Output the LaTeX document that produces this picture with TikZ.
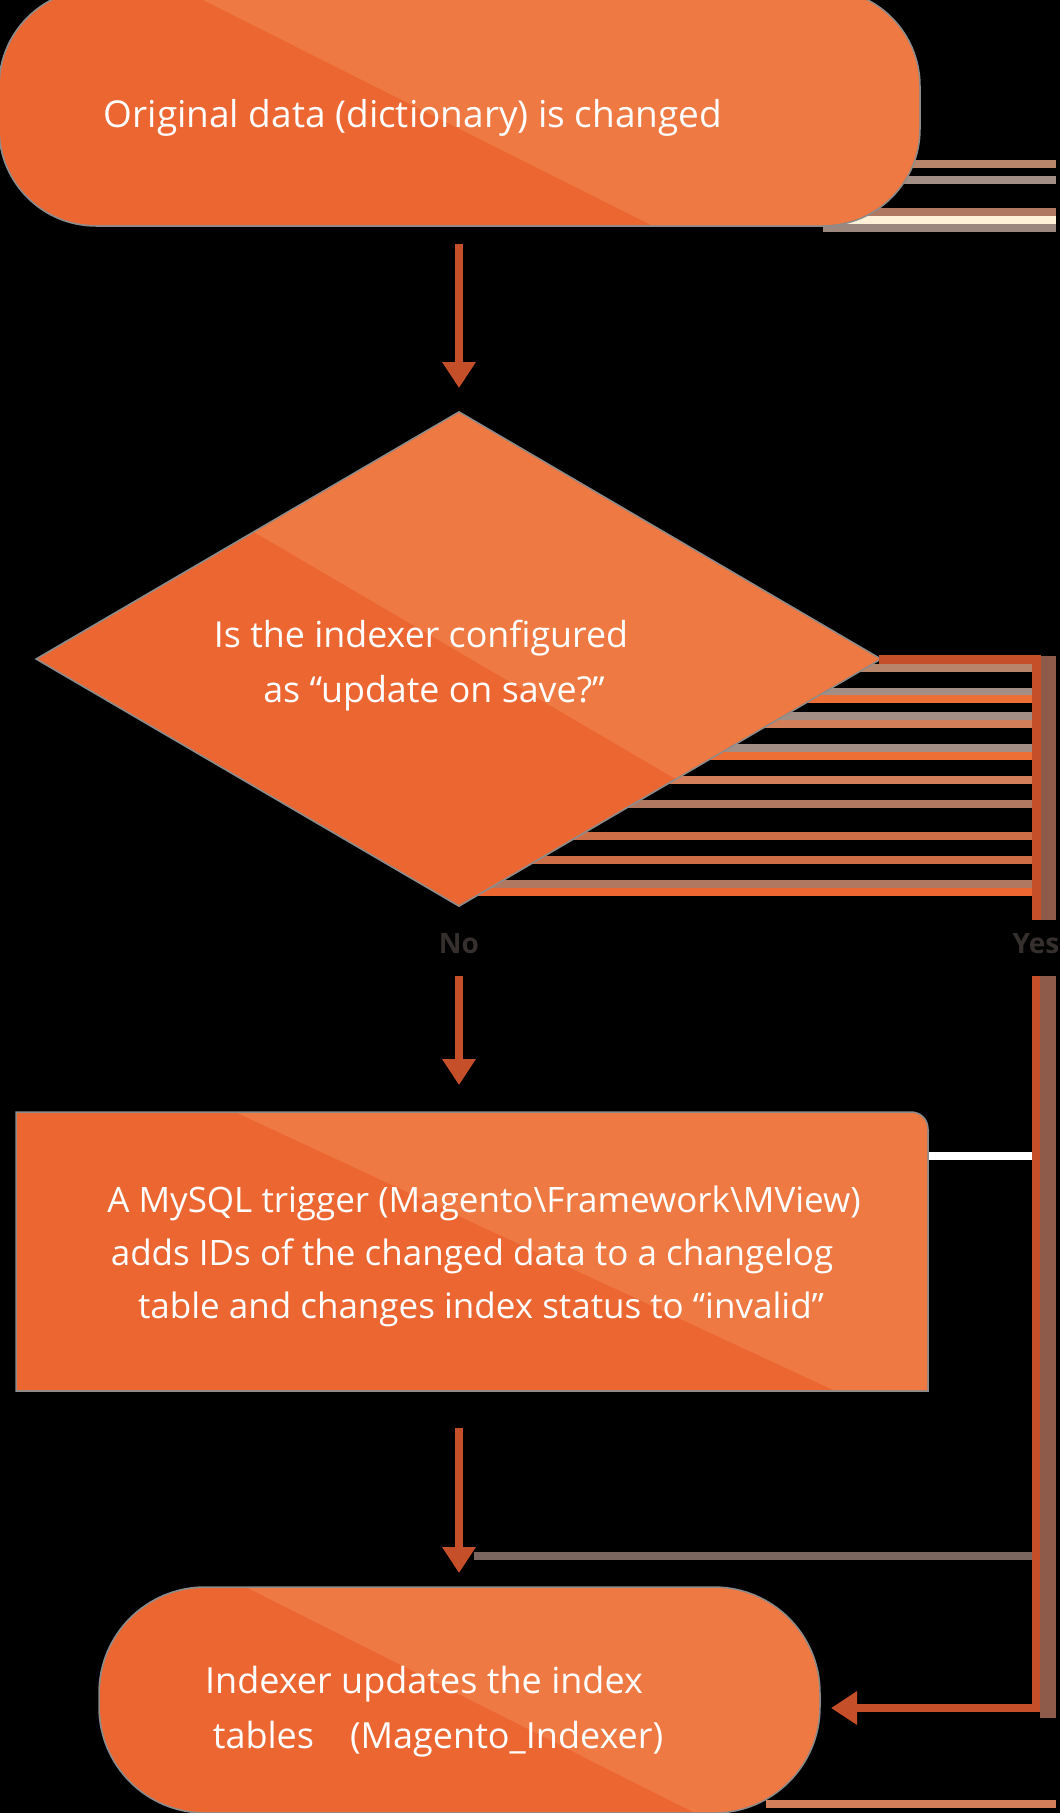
\documentclass[tikz,border=0pt]{standalone}
\usepackage{fontspec}
\setmainfont{Open Sans}
\usetikzlibrary{arrows.meta}
\definecolor{odark}{HTML}{EC6632}
\definecolor{olight}{HTML}{EF7942}
\definecolor{arrowc}{HTML}{C44F28}
\definecolor{halo}{HTML}{8C8C8C}
\definecolor{shadowb}{HTML}{8E5B4B}
\definecolor{lblc}{HTML}{35302D}
\definecolor{sA}{HTML}{B8856A}
\definecolor{sB}{HTML}{A28E84}
\definecolor{sC}{HTML}{EE6F35}
\definecolor{sD}{HTML}{D27F5A}
\definecolor{sE}{HTML}{B07860}
\definecolor{sF}{HTML}{CE6E47}
\definecolor{sG}{HTML}{FFF0D8}
\definecolor{sH}{HTML}{9B877D}
\definecolor{sI}{HTML}{7A665E}
\tikzset{
  txt/.style={anchor=base, inner sep=0pt, text=white},
  lbl/.style={inner sep=0pt, text=lblc, font=\bfseries\fontsize{28}{32}\selectfont},
  flow/.style={draw=arrowc, line width=8pt, -{Triangle[width=32pt,length=26pt]}},
  yesline/.style={draw=arrowc, line width=9pt},
  stripe/.style={line width=8pt},
  haloline/.style={draw=halo, line width=3.5pt}
}
\begin{document}
\begin{tikzpicture}[x=1pt,y=-1pt]
\fill[black] (0,0) rectangle (1060,1813);
\useasboundingbox (0,0) rectangle (1060,1813);

% decorative stripes right of the top shape
\foreach \yy/\cc/\xs in {164/sA/800, 180/sB/800, 212/sE/800, 220/sG/800, 228/sH/823}
  \draw[stripe, \cc] (\xs,\yy) -- (1056,\yy);

% top terminal
\draw[haloline, rounded corners=96pt] (0,-10) rectangle (919,225);
\begin{scope}
  \clip[rounded corners=96pt] (0,-10) rectangle (919,225);
  \fill[odark] (-5,-15) rectangle (925,230);
  \fill[olight] (173,-15) -- (661,230) -- (925,230) -- (925,-15) -- cycle;
\end{scope}
\node[txt, font=\fontsize{37}{42}\selectfont] (tStart) at (413,127) {Original data (dictionary) is changed};
\coordinate (sTopB) at (459,225);

% decorative stripes right of the diamond
\foreach \yy/\cc in {668/sA, 692/sB, 699/sC, 716/sB, 724/sD, 748/sB, 756/sC, 780/sD, 804/sE, 836/sF, 860/sF, 884/sE, 892/odark}
  \draw[stripe, \cc] (470,\yy) -- (1033,\yy);

% decision diamond
\draw[haloline] (459,413) -- (879,659) -- (459,905) -- (38,659) -- cycle;
\begin{scope}
  \clip (459,413) -- (879,659) -- (459,905) -- (38,659) -- cycle;
  \fill[odark] (30,405) rectangle (890,915);
  \fill[olight] (-166,286) -- (1094,1024) -- (1094,286) -- cycle;
\end{scope}
\node[txt, font=\fontsize{35.8}{40}\selectfont] (tDec1) at (421,647) {Is the indexer configured};
\node[txt, font=\fontsize{35.8}{40}\selectfont] (tDec2) at (434,702) {as “update on save?”};
\coordinate (dTop) at (459,413);
\coordinate (dRight) at (879,659);

% extra lines
\draw[stripe, white] (927,1156) -- (1033,1156);
\draw[stripe, sI] (474,1556) -- (1033,1556);
\draw[stripe, sD] (766,1804) -- (1056,1804);

% process box
\draw[haloline] (17,1390) -- (17,1113) -- (911,1113) .. controls (920,1113) and (927,1120) .. (927,1129) -- (927,1390) -- cycle;
\begin{scope}
  \clip (17,1390) -- (17,1113) -- (911,1113) .. controls (920,1113) and (927,1120) .. (927,1129) -- (927,1390) -- cycle;
  \fill[odark] (10,1105) rectangle (935,1395);
  \fill[olight] (220,1105) -- (844,1395) -- (935,1395) -- (935,1105) -- cycle;
\end{scope}
\node[txt, font=\fontsize{35}{40}\selectfont] (tBox1) at (484,1212) {A MySQL trigger (Magento\textbackslash Framework\textbackslash MView)};
\node[txt, font=\fontsize{35}{40}\selectfont] (tBox2) at (472,1265) {adds IDs of the changed data to a changelog};
\node[txt, font=\fontsize{35}{40}\selectfont] (tBox3) at (481,1318) {table and changes index status to “invalid”};
\coordinate (rTop) at (459,1113);
\coordinate (rBot) at (459,1390);

% end terminal
\draw[haloline, rounded corners=105pt] (100,1588) rectangle (819,1812);
\begin{scope}
  \clip[rounded corners=105pt] (100,1588) rectangle (819,1812);
  \fill[odark] (95,1580) rectangle (830,1820);
  \fill[olight] (232,1580) -- (709,1820) -- (830,1820) -- (830,1580) -- cycle;
\end{scope}
\node[txt, font=\fontsize{36}{40}\selectfont] (tEnd1) at (424,1693) {Indexer updates the index};
\node[txt, font=\fontsize{36}{40}\selectfont] (tEnd2) at (438,1748) {tables\quad(Magento\_Indexer)};
\coordinate (bTop) at (459,1588);
\coordinate (bRight) at (819,1708);

% labels
\node[lbl] (lblNo) at (459,944) {No};
\node[lbl] (lblYes) at (1036,944) {Yes};

% shadow of the right connector
\fill[shadowb] (1040,656) rectangle (1056,920);
\fill[shadowb] (1040,976) rectangle (1056,1718);

% connectors
\draw[flow, shorten <=19pt, shorten >=25pt] (sTopB) -- (dTop);
\draw[flow, shorten <=32pt, shorten >=28pt] (lblNo.center) -- (rTop);
\draw[flow, shorten <=38pt, shorten >=15pt] (rBot) -- (bTop);
\draw[yesline, shorten >=24pt] (dRight) -| (lblYes.center);
\draw[flow, shorten <=32pt, shorten >=12pt] (lblYes.center) |- (bRight);
\end{tikzpicture}
\end{document}
